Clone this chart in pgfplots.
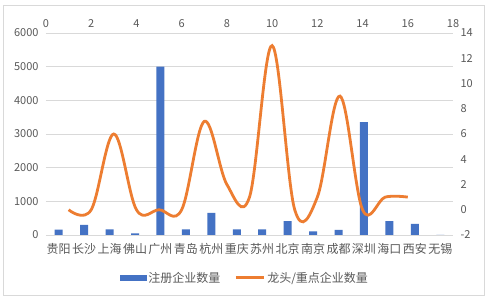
\documentclass[border=0pt]{standalone}
\usepackage{pgfplots}
\pgfplotsset{compat=1.18}
\usepackage{fontspec}
\setmainfont{Noto Sans CJK SC}
\definecolor{barblue}{HTML}{4472C4}
\definecolor{lineorange}{HTML}{ED7D31}
\definecolor{txt}{HTML}{595959}
\definecolor{gridc}{HTML}{D9D9D9}
\begin{document}
\begin{tikzpicture}
\fill[white] (0pt,0pt) rectangle (488pt,300pt);
\draw[gridc, line width=0.8pt] (3pt,5pt) rectangle (484pt,295pt);
\begin{axis}[at={(46pt,65pt)}, anchor=south west, scale only axis,
  width=407pt, height=202pt,
  xmin=-0.5, xmax=15.5, ymin=0, ymax=6000,
  axis line style={draw=none}, major tick length=0pt,
  ymajorgrids, grid style={gridc, line width=0.8pt},
  xtick={0,...,15},
  xticklabels={贵阳,长沙,上海,佛山,广州,青岛,杭州,重庆,苏州,北京,南京,成都,深圳,海口,西安,无锡},
  ytick={0,1000,2000,3000,4000,5000,6000},
  yticklabels={0,1000,2000,3000,4000,5000,6000},
  x tick label style={font=\fontsize{12}{12}\selectfont, text=txt, yshift=-5pt},
  y tick label style={font=\fontsize{11}{11}\selectfont, text=txt, xshift=-4pt},
  clip=false]
\addplot[ybar, bar width=8pt, fill=barblue, draw=none] coordinates {
(0,160) (1,300) (2,170) (3,50) (4,5000) (5,170) (6,660) (7,170)
(8,170) (9,415) (10,110) (11,150) (12,3350) (13,415) (14,330) (15,0)};
\end{axis}
\begin{axis}[at={(46pt,65pt)}, anchor=south west, scale only axis,
  width=407pt, height=202pt,
  xmin=0, xmax=18, ymin=-2, ymax=14,
  axis x line*=top, axis y line*=right,
  axis line style={draw=none}, major tick length=0pt,
  xtick={0,2,4,6,8,10,12,14,16,18},
  xticklabels={0,2,4,6,8,10,12,14,16,18},
  ytick={-2,0,2,4,6,8,10,12,14},
  yticklabels={-2,0,2,4,6,8,10,12,14},
  x tick label style={font=\fontsize{11}{11}\selectfont, text=txt, yshift=2pt},
  y tick label style={font=\fontsize{11}{11}\selectfont, text=txt, xshift=4pt},
  legend style={at={(0.489,-0.212)}, anchor=center, draw=none, fill=none,
    legend columns=2, font=\fontsize{12}{12}\selectfont, text=txt,
    /tikz/every even column/.append style={column sep=12pt}},
  clip=false]
\addlegendimage{legend image code/.code={\fill[barblue] (0pt,-2.5pt) rectangle (26pt,2.5pt);}}
\addlegendentry{注册企业数量}
\addplot[lineorange, line width=2.8pt, smooth, tension=0.6,
  legend image code/.code={\draw[lineorange, line width=2.8pt] (0pt,0pt) -- (28pt,0pt);}]
  coordinates {(1,0) (2,0) (3,6) (4,0) (5,0) (6,0) (7,7) (8,2) (9,1) (10,13) (11,0) (12,1) (13,9) (14,0) (15,1) (16,1)};
\addlegendentry{龙头/重点企业数量}
\end{axis}
\end{tikzpicture}
\end{document}
